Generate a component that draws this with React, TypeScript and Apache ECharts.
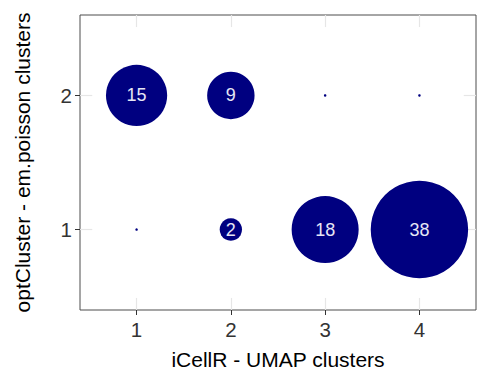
import React, { useEffect, useRef } from "react";
import * as echarts from "echarts";

// Cluster labels on each axis
const umapClusters = [1, 2, 3, 4];
const poissonClusters = [1, 2];

// Cell counts per em.poisson cluster (rows) across UMAP clusters (columns)
const countsPoisson1 = [0, 2, 18, 38];
const countsPoisson2 = [15, 9, 0, 0];

const xTitle = "iCellR - UMAP clusters";
const yTitle = "optCluster - em.poisson clusters";

const FONT = "Liberation Sans, Arial, sans-serif";

const X_MIN = 0.4;
const X_MAX = 4.6;
const Y_MIN = 0.4;
const Y_MAX = 2.6;

export default function App() {
  const ref = useRef<HTMLDivElement>(null);

  useEffect(() => {
    if (!ref.current) return;
    const chart = echarts.init(ref.current, undefined, { renderer: "svg" });

    const rows = [countsPoisson1, countsPoisson2];
    const data: number[][] = [];
    rows.forEach((row, ri) => {
      row.forEach((v, ci) => {
        data.push([umapClusters[ci], poissonClusters[ri], v]);
      });
    });

    // faint grid stubs at the panel edges
    const dx = 0.13;
    const dy = 0.09;
    const stubs: any[] = [];
    umapClusters.forEach((c) => {
      stubs.push([{ coord: [c, Y_MAX] }, { coord: [c, Y_MAX - dy] }]);
      stubs.push([{ coord: [c, Y_MIN] }, { coord: [c, Y_MIN + dy] }]);
    });
    poissonClusters.forEach((c) => {
      stubs.push([{ coord: [X_MIN, c] }, { coord: [X_MIN + dx, c] }]);
      stubs.push([{ coord: [X_MAX, c] }, { coord: [X_MAX - dx, c] }]);
    });

    chart.setOption({
      animation: false,
      backgroundColor: "#ffffff",
      grid: {
        left: 80,
        top: 15,
        width: 396,
        height: 298,
        show: true,
        borderColor: "#4d4d4d",
        borderWidth: 1,
        backgroundColor: "transparent",
      },
      xAxis: {
        type: "value",
        min: X_MIN,
        max: X_MAX,
        name: xTitle,
        nameLocation: "middle",
        nameGap: 39,
        nameTextStyle: { fontFamily: FONT, fontSize: 21, color: "#000" },
        axisLine: { show: false },
        axisTick: {
          show: true,
          customValues: umapClusters,
          length: 5,
          lineStyle: { color: "#333", width: 1 },
        },
        axisLabel: {
          customValues: umapClusters,
          fontFamily: FONT,
          fontSize: 20.5,
          color: "#333",
          margin: 9,
        },
        splitLine: { show: false },
      },
      yAxis: {
        type: "value",
        min: Y_MIN,
        max: Y_MAX,
        name: yTitle,
        nameLocation: "middle",
        nameRotate: 90,
        nameGap: 47,
        nameTextStyle: { fontFamily: FONT, fontSize: 21, color: "#000" },
        axisLine: { show: false },
        axisTick: {
          show: true,
          customValues: poissonClusters,
          length: 5,
          lineStyle: { color: "#333", width: 1 },
        },
        axisLabel: {
          customValues: poissonClusters,
          fontFamily: FONT,
          fontSize: 20.5,
          color: "#333",
          margin: 8,
        },
        splitLine: { show: false },
      },
      series: [
        {
          type: "scatter",
          data: [],
          silent: true,
          z: 1,
          markLine: {
            silent: true,
            symbol: "none",
            label: { show: false },
            lineStyle: { color: "#e6e6e6", width: 1.2, type: "solid" },
            data: stubs,
          },
        },
        {
          type: "scatter",
          data,
          symbol: "circle",
          symbolSize: (val: number[]) =>
            val[2] > 0 ? 15.8 * Math.sqrt(val[2]) : 2.5,
          itemStyle: { color: "#000080", opacity: 1 },
          label: {
            show: true,
            position: "inside",
            formatter: (p: any) => (p.value[2] > 0 ? String(p.value[2]) : ""),
            fontFamily: FONT,
            fontSize: 18,
            color: "#e6e6f5",
          },
          emphasis: { disabled: true },
          z: 5,
        },
      ],
    });

    return () => chart.dispose();
  }, []);

  return <div ref={ref} style={{ width: 484, height: 375, position: "absolute", left: 0, top: 0 }} />;
}
